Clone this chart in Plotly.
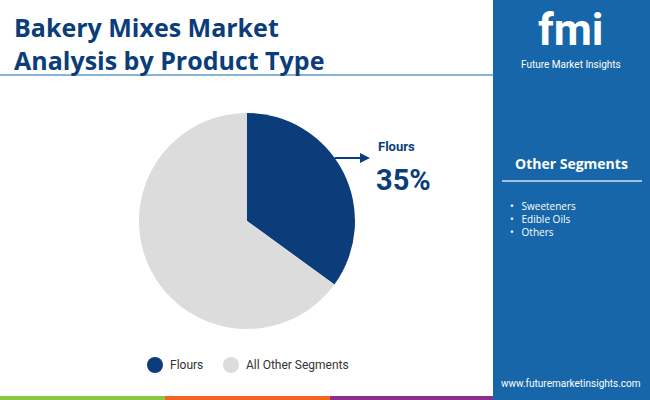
import plotly.graph_objects as go

labels = ["Flours", "All Other Segments"]
values = [35, 65]
colors = ["#0b3d7a", "#dcdcdc"]
other_segments = ["Sweeteners", "Edible Oils", "Others"]

fig = go.Figure(go.Pie(
    labels=labels, values=values, sort=False, direction="clockwise", rotation=0,
    marker=dict(colors=colors), textinfo="none", hoverinfo="label+percent",
    domain=dict(x=[139/650, 355/650], y=[71/400, 287/400]), showlegend=False))

shapes = [
    dict(type="rect", xref="paper", yref="paper", x0=493/650, x1=1, y0=0, y1=1,
         fillcolor="#1766a9", line_width=0, layer="below"),
    dict(type="line", xref="paper", yref="paper", x0=0, x1=493/650, y0=1-75/400, y1=1-75/400,
         line=dict(color="#1766a9", width=1)),
    dict(type="line", xref="paper", yref="paper", x0=502/650, x1=642/650, y0=1-181/400, y1=1-181/400,
         line=dict(color="#9fc0de", width=2)),
    dict(type="rect", xref="paper", yref="paper", x0=0, x1=165/650, y0=0, y1=4/400, fillcolor="#8dc63f", line_width=0),
    dict(type="rect", xref="paper", yref="paper", x0=165/650, x1=330/650, y0=0, y1=4/400, fillcolor="#f26522", line_width=0),
    dict(type="rect", xref="paper", yref="paper", x0=330/650, x1=493/650, y0=0, y1=4/400, fillcolor="#8b2f8b", line_width=0),
    dict(type="circle", xref="paper", yref="paper", x0=147/650, x1=163/650, y0=1-373/400, y1=1-357/400,
         fillcolor=colors[0], line_width=0),
    dict(type="circle", xref="paper", yref="paper", x0=223/650, x1=239/650, y0=1-373/400, y1=1-357/400,
         fillcolor=colors[1], line_width=0),
]

ann = [
    dict(x=12/650, y=1-8/400, xanchor="left", yanchor="top", align="left",
         text="<b>Bakery Mixes Market<br>Analysis by Product Type</b>",
         font=dict(family="Open Sans", size=25, color="#0b3d7a")),
    dict(x=376/650, y=1-147/400, xanchor="left", yanchor="middle", text="<b>Flours</b>",
         font=dict(family="Roboto", size=13, color="#0b3d7a")),
    dict(x=374/650, y=1-180/400, xanchor="left", yanchor="middle", text="<b>35%</b>",
         font=dict(family="Roboto", size=29, color="#0b3d7a")),
    dict(x=370/650, y=1-158/400, ax=-37, ay=0, text="", showarrow=True, arrowhead=2, arrowsize=1,
         arrowwidth=2, arrowcolor="#0b3d7a"),
    dict(x=168/650, y=1-365/400, xanchor="left", yanchor="middle", text=labels[0],
         font=dict(family="Roboto", size=12, color="#333")),
    dict(x=244/650, y=1-365/400, xanchor="left", yanchor="middle", text=labels[1],
         font=dict(family="Roboto", size=12, color="#333")),
    dict(x=571/650, y=1-30/400, xanchor="center", yanchor="middle", text="<b>fmi</b>",
         font=dict(family="Roboto", size=44, color="white")),
    dict(x=571/650, y=1-64/400, xanchor="center", yanchor="middle", text="Future Market Insights",
         font=dict(family="Roboto", size=10, color="white")),
    dict(x=571/650, y=1-164/400, xanchor="center", yanchor="middle", text="<b>Other Segments</b>",
         font=dict(family="Open Sans", size=14, color="white")),
    dict(x=508/650, y=1-197/400, xanchor="left", yanchor="top", align="left",
         text="<br>".join("•   " + s for s in other_segments),
         font=dict(family="Open Sans", size=10, color="white")),
    dict(x=571/650, y=1-383/400, xanchor="center", yanchor="middle", text="www.futuremarketinsights.com",
         font=dict(family="Roboto", size=10, color="white")),
]
for a in ann:
    a.setdefault("xref", "paper"); a.setdefault("yref", "paper"); a.setdefault("showarrow", False)

fig.update_layout(width=650, height=400, margin=dict(l=0, r=0, t=0, b=0),
                  paper_bgcolor="white", plot_bgcolor="white", shapes=shapes, annotations=ann)
fig.write_html("out.html", config={"displayModeBar": False},
               post_script="document.body.style.margin='0';")
